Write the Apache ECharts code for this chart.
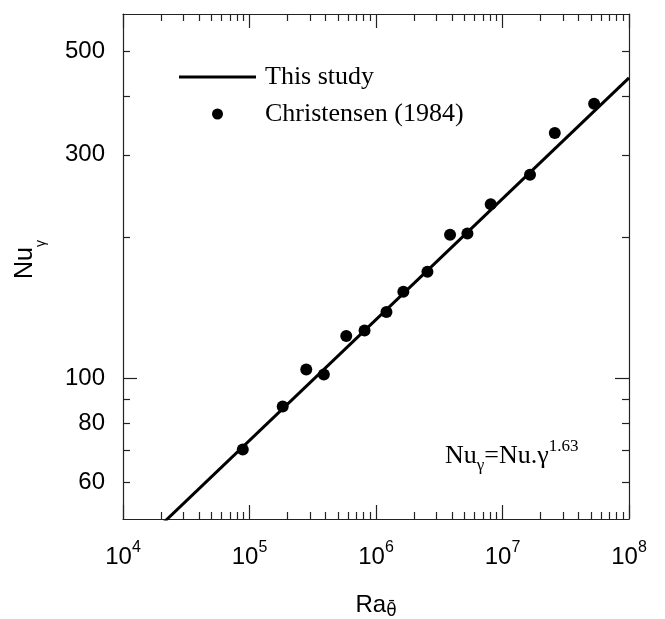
<!DOCTYPE html>
<html><head><meta charset="utf-8">
<script src="https://cdn.jsdelivr.net/npm/echarts@6/dist/echarts.min.js"></script>
<style>html,body{margin:0;padding:0;background:#fff}#c{width:665px;height:619px}</style>
</head><body><div id="c"></div>
<script>
// ---- data ----
const raValues = [8.85e4, 1.83e5, 2.81e5, 3.87e5, 5.82e5, 8.12e5, 1.21e6, 1.645e6, 2.55e6, 3.85e6, 5.28e6, 8.07e6, 1.65e7, 2.59e7, 5.30e7];
const nuValues = [70.4, 87.0, 104.4, 101.8, 123.1, 126.4, 138.5, 153.0, 168.7, 202.5, 203.8, 235.3, 271.9, 334.1, 385.8];
const fitRa = [1e4, 1e8];
const fitNu = [40.6, 438];
const legendNames = ['This study', 'Christensen (1984)'];
const xMajorTicks = [1e4, 1e5, 1e6, 1e7, 1e8];
const xMinorTicks = [];
for (let d = 4; d < 8; d++) for (let m = 2; m <= 9; m++) xMinorTicks.push(m * Math.pow(10, d));
const yLabelValues = [60, 80, 100, 300, 500];
const yMajorTicks = [100];
const yMinorTicks = [60, 70, 80, 90, 200, 300, 400, 500];

const AX = '#222';
const SANS = 'Liberation Sans, Arial, Helvetica, sans-serif';
const SERIF = 'Liberation Serif, Times New Roman, serif';

function xAx(position, ticks, len, showLine, withLabel) {
  const a = {
    type: 'log', logBase: 10, min: 1e4, max: 1e8, gridIndex: 0, position: position,
    axisLine: { show: showLine, onZero: false, lineStyle: { color: AX, width: 1.2 } },
    axisTick: { show: true, inside: true, length: len, customValues: ticks, lineStyle: { color: AX, width: 1.2 } },
    axisLabel: { show: false },
    splitLine: { show: false }, minorTick: { show: false }
  };
  if (withLabel) {
    a.axisLabel = {
      show: true, customValues: xMajorTicks, margin: 21, color: '#000',
      formatter: v => '{b|10}{s|' + Math.round(Math.log10(v)) + '}',
      rich: {
        b: { fontSize: 24, fontFamily: SANS, color: '#000', lineHeight: 34 },
        s: { fontSize: 16, fontFamily: SANS, color: '#000', verticalAlign: 'top' }
      }
    };
    a.name = '{a|Ra}{s|θ̄}';
    a.nameLocation = 'middle';
    a.nameGap = 71;
    a.nameTextStyle = {
      rich: {
        a: { fontSize: 24, fontFamily: SANS, color: '#000', lineHeight: 30 },
        s: { fontSize: 17, fontFamily: 'DejaVu Sans, Liberation Sans, sans-serif', color: '#000', verticalAlign: 'bottom' }
      }
    };
  }
  return a;
}
function yAx(position, ticks, len, showLine, withLabel) {
  const a = {
    type: 'log', logBase: 10, min: 50, max: 600, gridIndex: 0, position: position,
    axisLine: { show: showLine, onZero: false, lineStyle: { color: AX, width: 1.2 } },
    axisTick: { show: true, inside: true, length: len, customValues: ticks, lineStyle: { color: AX, width: 1.2 } },
    axisLabel: { show: false },
    splitLine: { show: false }, minorTick: { show: false }
  };
  if (withLabel) {
    a.axisLabel = { show: true, customValues: yLabelValues, margin: 18, color: '#000', fontSize: 24, fontFamily: SANS };
    a.name = '{a|Nu}{b|γ}';
    a.nameLocation = 'middle';
    a.nameRotate = 90;
    a.nameGap = 75;
    a.nameTextStyle = {
      padding: [0, 0, 0, 14],
      rich: {
        a: { fontSize: 25, fontFamily: SANS, color: '#000', lineHeight: 46 },
        b: { fontSize: 14, fontFamily: SANS, color: '#000', verticalAlign: 'bottom' }
      }
    };
  }
  return a;
}

const chart = echarts.init(document.getElementById('c'), null, { renderer: 'canvas' });
chart.setOption({
  animation: false,
  backgroundColor: '#fff',
  grid: { left: 123, right: 36, top: 14, bottom: 100, containLabel: false, outerBoundsMode: 'none' },
  xAxis: [
    xAx('bottom', xMajorTicks, 14, true, true),
    xAx('bottom', xMinorTicks, 7, false, false),
    xAx('top', xMajorTicks, 14, true, false),
    xAx('top', xMinorTicks, 7, false, false)
  ],
  yAxis: [
    yAx('left', yMajorTicks, 14, true, true),
    yAx('left', yMinorTicks, 7, false, false),
    yAx('right', yMajorTicks, 14, true, false),
    yAx('right', yMinorTicks, 7, false, false)
  ],
  legend: {
    orient: 'vertical', left: 174, top: 57, itemWidth: 77, itemHeight: 11, itemGap: 7,
    selectedMode: false,
    textStyle: { fontFamily: SERIF, fontSize: 26, color: '#000', lineHeight: 30, padding: [0, 0, 0, 4] },
    data: [
      { name: legendNames[0], icon: 'path://M0,0H77V3H0Z', itemStyle: { color: '#000' } },
      { name: legendNames[1], icon: 'circle', itemStyle: { color: '#000', opacity: 1 } }
    ]
  },
  graphic: [{
    type: 'text', left: 445, top: 438, z: 10,
    style: {
      text: '{a|Nu}{b|γ}{a|=Nu.γ}{c|1.63}',
      rich: {
        a: { fontSize: 26, fontFamily: SERIF, fill: '#000', lineHeight: 36 },
        b: { fontSize: 17, fontFamily: SERIF, fill: '#000', verticalAlign: 'bottom' },
        c: { fontSize: 17, fontFamily: SERIF, fill: '#000', verticalAlign: 'top' }
      }
    }
  }],
  series: [
    {
      name: legendNames[0], type: 'line', xAxisIndex: 0, yAxisIndex: 0,
      data: fitRa.map((r, i) => [r, fitNu[i]]),
      symbol: 'none', showSymbol: false, clip: true,
      lineStyle: { color: '#000', width: 3 }, itemStyle: { color: '#000' }, z: 2
    },
    {
      name: legendNames[1], type: 'scatter', xAxisIndex: 0, yAxisIndex: 0,
      data: raValues.map((r, i) => [r, nuValues[i]]),
      symbol: 'circle', symbolSize: 12, itemStyle: { color: '#000', opacity: 1 }, z: 3
    }
  ]
});
</script></body></html>
